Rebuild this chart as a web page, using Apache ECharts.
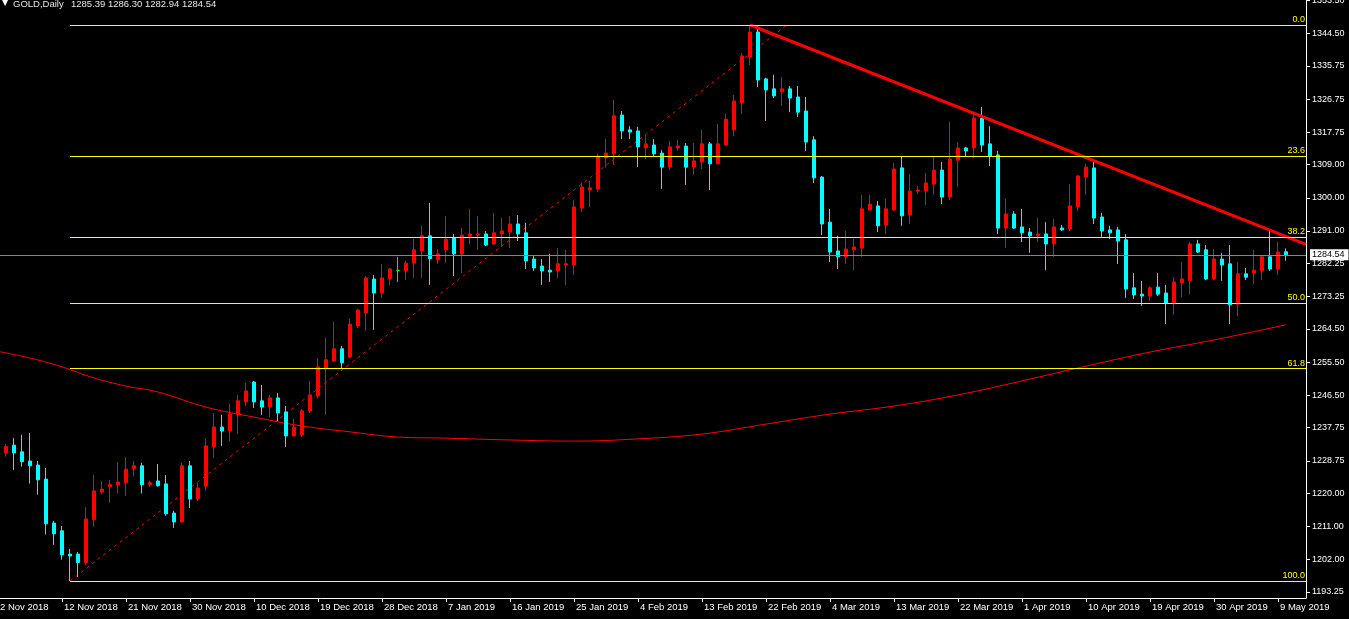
<!DOCTYPE html>
<html>
<head>
<meta charset="utf-8">
<script src="https://cdn.jsdelivr.net/npm/echarts@6/dist/echarts.min.js"></script>
<style>
html,body{margin:0;padding:0;background:#000;overflow:hidden;width:1349px;height:619px;}
#chart{position:absolute;left:-6px;top:0;width:1355px;height:619px;}
</style>
</head>
<body>
<div id="chart"></div>
<script>
const symbolName = 'GOLD,Daily';
const dates = [
'2 Nov 2018',
'4 Nov 2018','5 Nov 2018','6 Nov 2018','7 Nov 2018','8 Nov 2018','9 Nov 2018',
'11 Nov 2018','12 Nov 2018','13 Nov 2018','14 Nov 2018','15 Nov 2018','16 Nov 2018',
'18 Nov 2018','19 Nov 2018','20 Nov 2018','21 Nov 2018','22 Nov 2018','23 Nov 2018',
'25 Nov 2018','26 Nov 2018','27 Nov 2018','28 Nov 2018','29 Nov 2018','30 Nov 2018',
'2 Dec 2018','3 Dec 2018','4 Dec 2018','5 Dec 2018','6 Dec 2018','7 Dec 2018',
'9 Dec 2018','10 Dec 2018','11 Dec 2018','12 Dec 2018','13 Dec 2018','14 Dec 2018',
'16 Dec 2018','17 Dec 2018','18 Dec 2018','19 Dec 2018','20 Dec 2018','21 Dec 2018',
'23 Dec 2018','24 Dec 2018','25 Dec 2018','26 Dec 2018','27 Dec 2018','28 Dec 2018',
'30 Dec 2018','31 Dec 2018','1 Jan 2019','2 Jan 2019','3 Jan 2019','4 Jan 2019',
'6 Jan 2019','7 Jan 2019','8 Jan 2019','9 Jan 2019','10 Jan 2019','11 Jan 2019',
'13 Jan 2019','14 Jan 2019','15 Jan 2019','16 Jan 2019','17 Jan 2019','18 Jan 2019',
'20 Jan 2019','21 Jan 2019','22 Jan 2019','23 Jan 2019','24 Jan 2019','25 Jan 2019',
'27 Jan 2019','28 Jan 2019','29 Jan 2019','30 Jan 2019','31 Jan 2019','1 Feb 2019',
'3 Feb 2019','4 Feb 2019','5 Feb 2019','6 Feb 2019','7 Feb 2019','8 Feb 2019',
'10 Feb 2019','11 Feb 2019','12 Feb 2019','13 Feb 2019','14 Feb 2019','15 Feb 2019',
'17 Feb 2019','18 Feb 2019','19 Feb 2019','20 Feb 2019','21 Feb 2019','22 Feb 2019',
'24 Feb 2019','25 Feb 2019','26 Feb 2019','27 Feb 2019','28 Feb 2019','1 Mar 2019',
'3 Mar 2019','4 Mar 2019','5 Mar 2019','6 Mar 2019','7 Mar 2019','8 Mar 2019',
'10 Mar 2019','11 Mar 2019','12 Mar 2019','13 Mar 2019','14 Mar 2019','15 Mar 2019',
'17 Mar 2019','18 Mar 2019','19 Mar 2019','20 Mar 2019','21 Mar 2019','22 Mar 2019',
'24 Mar 2019','25 Mar 2019','26 Mar 2019','27 Mar 2019','28 Mar 2019','29 Mar 2019',
'31 Mar 2019','1 Apr 2019','2 Apr 2019','3 Apr 2019','4 Apr 2019','5 Apr 2019',
'7 Apr 2019','8 Apr 2019','9 Apr 2019','10 Apr 2019','11 Apr 2019','12 Apr 2019',
'14 Apr 2019','15 Apr 2019','16 Apr 2019','17 Apr 2019','18 Apr 2019','19 Apr 2019',
'22 Apr 2019','23 Apr 2019','24 Apr 2019','25 Apr 2019','26 Apr 2019',
'28 Apr 2019','29 Apr 2019','30 Apr 2019','1 May 2019','2 May 2019','3 May 2019',
'5 May 2019','6 May 2019','7 May 2019','8 May 2019','9 May 2019','10 May 2019',
'12 May 2019','13 May 2019'
];

const opens = [
1230.1,1230.9,1233.0,1231.2,1228.7,1227.6,1223.8,1211.9,1209.8,1203.5,
1203.5,1201.2,1212.8,1220.3,1221.7,1222.2,1222.8,1226.6,1227.4,1222.3,
1223.3,1222.5,1214.6,1212.2,1227.4,1218.4,1221.9,1232.5,1237.9,1236.8,
1241.2,1244.7,1250.1,1245.0,1243.3,1245.8,1242.0,1235.5,1235.8,1242.3,
1246.3,1253.9,1255.8,1259.1,1256.9,1265.3,1268.8,1278.0,1274.2,1278.0,
1280.35,1280.2,1282.3,1285.6,1289.7,1283.2,1285.9,1289.1,1284.8,1289.6,
1289.9,1290.2,1287.5,1290.2,1290.7,1292.9,1290.5,1283.4,1281.5,1280.4,
1280.2,1281.8,1281.8,1297.2,1302.1,1302.4,1310.8,1311.9,1322.4,1318.4,
1318.1,1313.5,1314.3,1312.1,1308.3,1313.5,1314.0,1308.3,1309.7,1314.6,
1309.2,1314.3,1318.4,1325.7,1338.1,1344.9,1332.2,1329.5,1328.7,1329.5,
1327.3,1323.5,1315.7,1305.6,1293.4,1285.6,1284.0,1285.9,1286.4,1296.7,
1297.8,1292.6,1296.7,1308.1,1295.3,1301.8,1301.8,1303.7,1307.5,1300.2,
1310.2,1313.5,1313.5,1321.6,1314.6,1311.6,1291.8,1295.6,1292.1,1290.7,
1289.7,1290.2,1287.5,1291.8,1291.6,1297.5,1305.6,1308.1,1294.8,1291.3,
1291.3,1288.6,1275.6,1273.9,1273.4,1275.8,1274.2,1271.5,1276.9,1277.5,
1287.5,1285.9,1278.0,1283.4,1282.1,1271.2,1279.4,1279.6,1280.2,1284.0,
1280.7,1285.39
];
const highs = [
1232.0,1233.3,1234.9,1235.8,1236.3,1228.7,1226.8,1212.5,1211.1,1204.9,
1204.1,1216.2,1224.9,1223.3,1223.6,1228.4,1229.8,1228.7,1228.2,1223.4,
1227.9,1224.9,1215.2,1228.2,1228.7,1222.8,1234.7,1241.7,1241.2,1244.2,
1246.6,1249.8,1250.4,1249.3,1246.6,1247.1,1243.6,1240.1,1242.8,1250.4,
1256.5,1262.0,1266.4,1259.9,1267.2,1269.9,1278.8,1279.1,1282.1,1281.0,
1284.0,1282.9,1288.8,1292.4,1298.6,1286.1,1295.1,1290.2,1291.8,1297.0,
1295.1,1291.0,1295.9,1294.5,1295.1,1295.3,1293.2,1284.5,1283.4,1284.8,
1286.4,1285.9,1299.4,1304.0,1304.6,1311.9,1315.9,1326.5,1323.5,1319.4,
1319.2,1317.0,1315.9,1312.9,1315.4,1315.7,1314.8,1314.8,1318.4,1315.1,
1320.0,1322.7,1327.8,1339.2,1346.8,1346.5,1332.5,1333.3,1332.7,1330.3,
1330.3,1327.3,1316.7,1305.9,1297.0,1289.7,1291.0,1288.8,1300.8,1300.8,
1299.1,1299.7,1309.4,1311.1,1306.4,1303.2,1306.7,1311.1,1309.7,1320.5,
1315.1,1313.8,1322.4,1324.6,1319.4,1312.7,1299.7,1296.4,1297.0,1291.8,
1294.5,1293.4,1294.3,1292.6,1303.7,1306.2,1309.2,1309.7,1295.9,1292.4,
1292.1,1290.2,1279.6,1277.5,1276.0,1279.6,1276.4,1278.5,1282.6,1288.0,
1288.6,1287.2,1286.1,1285.1,1287.2,1282.6,1281.0,1285.9,1284.5,1291.3,
1288.0,1286.30
];
const lows = [
1229.0,1229.9,1226.3,1227.2,1222.6,1219.6,1208.8,1206.0,1202.0,1196.2,
1197.3,1200.5,1210.9,1219.8,1217.3,1219.9,1219.3,1224.5,1219.9,1221.8,
1221.8,1213.9,1210.6,1212.0,1216.0,1217.9,1220.6,1229.5,1232.8,1234.1,
1236.0,1243.6,1243.1,1241.2,1240.6,1239.5,1232.5,1235.3,1235.2,1241.7,
1245.8,1241.2,1255.6,1253.6,1256.6,1264.7,1263.9,1264.2,1272.9,1276.4,
1277.2,1277.7,1278.3,1278.3,1276.4,1282.1,1282.3,1278.8,1279.6,1287.5,
1285.9,1286.9,1287.2,1286.7,1286.4,1288.3,1280.7,1280.2,1276.4,1277.2,
1278.3,1276.4,1279.1,1296.2,1297.5,1301.6,1308.1,1308.9,1315.9,1315.9,
1308.3,1310.5,1311.3,1302.4,1307.5,1312.7,1303.5,1306.2,1307.8,1302.1,
1309.0,1314.2,1316.7,1322.7,1336.0,1330.0,1320.8,1327.0,1324.9,1323.2,
1321.9,1312.7,1304.0,1289.9,1282.6,1280.7,1282.1,1280.4,1284.0,1296.5,
1290.7,1290.2,1296.4,1292.4,1292.9,1301.0,1298.1,1300.8,1298.3,1299.4,
1302.9,1311.3,1310.8,1312.4,1308.6,1290.2,1286.4,1291.6,1288.0,1285.1,
1288.0,1280.4,1284.0,1291.0,1291.0,1296.4,1300.8,1292.9,1289.4,1288.8,
1282.1,1272.9,1272.6,1270.7,1272.1,1273.4,1265.8,1268.3,1273.1,1273.9,
1285.1,1277.7,1277.7,1277.5,1265.8,1268.0,1277.7,1276.7,1277.7,1280.2,
1279.1,1282.94
];
const closes = [
1231.1,1232.6,1230.9,1228.5,1227.4,1223.6,1211.7,1209.0,1203.3,1203.0,
1201.2,1213.0,1220.6,1221.1,1222.3,1223.0,1226.5,1227.4,1222.3,1222.8,
1222.0,1214.4,1212.2,1227.4,1218.4,1221.4,1232.8,1237.9,1236.8,1241.4,
1245.0,1247.7,1244.7,1243.3,1245.8,1241.7,1235.5,1237.9,1242.3,1246.6,
1254.2,1256.1,1259.1,1255.3,1265.8,1269.6,1278.3,1274.2,1278.3,1280.7,
1280.35,1282.3,1285.9,1289.7,1283.5,1284.8,1288.8,1284.8,1289.9,1290.2,
1290.2,1287.2,1290.5,1291.0,1292.9,1290.2,1282.9,1281.0,1280.2,1279.9,
1282.1,1282.1,1297.5,1302.9,1302.7,1311.3,1312.1,1322.2,1318.1,1317.8,
1313.8,1314.6,1311.9,1308.3,1313.8,1314.0,1308.3,1310.0,1314.6,1309.2,
1314.6,1321.3,1326.2,1338.4,1344.9,1331.9,1329.2,1327.6,1329.5,1327.0,
1323.2,1315.1,1305.4,1292.9,1285.3,1284.0,1286.1,1286.7,1297.0,1298.3,
1292.4,1297.0,1307.8,1295.1,1301.8,1302.1,1304.0,1307.5,1300.2,1310.5,
1313.5,1312.7,1321.6,1314.3,1311.3,1291.8,1295.6,1291.8,1290.5,1289.7,
1290.2,1287.5,1292.1,1291.3,1297.8,1305.9,1308.3,1294.5,1291.0,1290.5,
1288.3,1275.3,1273.7,1273.4,1275.6,1273.9,1271.5,1277.2,1278.0,1287.5,
1285.3,1278.0,1283.4,1281.8,1271.0,1279.4,1278.5,1280.4,1284.0,1280.7,
1285.3,1284.54
];

// 200-period moving average, read at selected bars
const maBars = [0,4,8,12,16,20,26,32,38,44,50,56,64,72,80,88,96,104,112,120,128,136,144,152,161];
const maValues = [1258.4,1256.6,1254.2,1251.2,1249.0,1247.4,1243.3,1240.6,1238.2,1236.6,1235.2,1234.9,1234.4,1234.1,1234.7,1236.0,1238.7,1241.4,1243.6,1246.6,1250.4,1254.4,1258.2,1261.5,1265.6];

// Fibonacci retracement
const fibNames = ['0.0','23.6','38.2','50.0','61.8','100.0'];
const fibPrices = [1346.8,1311.26,1289.27,1271.5,1253.73,1196.2];
const fibStartBar = 9;
const fibAnchorBars = [9, 98.6];
const fibAnchorPrices = [1196.2, 1346.8];

// resistance trend line
const trendBars = [94, 163.5];
const trendPrices = [1346.8, 1287.4];

const lastPrice = 1284.54;
const yTicks = [1353.50,1344.50,1335.75,1326.75,1317.75,1309.00,1300.00,1291.00,1282.25,1273.25,1264.50,1255.50,1246.50,1237.75,1228.75,1220.00,1211.00,1202.00,1193.25];

const nCat = dates.length;
const candleData = dates.map((d, i) => i < opens.length ? [opens[i], closes[i], lows[i], highs[i]] : '-');
const lastIdx = opens.length - 1;
const headerValues = [opens[lastIdx], highs[lastIdx], lows[lastIdx], closes[lastIdx]].map(v => v.toFixed(2)).join(' ');

const chart = echarts.init(document.getElementById('chart'), null, {renderer: 'canvas'});
const labelFont = 'Liberation Sans';
const every8 = (idx) => idx % 8 === 0;

const fibLineData = fibPrices.map((p, k) => [
  {coord: [fibStartBar, p], name: fibNames[k]},
  {coord: [nCat - 0.5, p]}
]);

chart.setOption({
  backgroundColor: '#000000',
  animation: false,
  graphic: [
    {type: 'text', left: 8, top: -1, style: {text: '▼', fill: '#ffffff', font: '8px "DejaVu Sans"'}},
    {type: 'text', left: 19, top: -1, style: {text: symbolName, fill: '#e6e6e6', font: '9.5px "Liberation Sans"'}},
    {type: 'text', left: 77, top: -1, style: {text: headerValues, fill: '#e6e6e6', font: '9.5px "Liberation Sans"'}}
  ],
  grid: {left: 0, right: 43, top: 0, bottom: 21, containLabel: false, outerBoundsMode: 'none'},
  xAxis: [
    {
      type: 'category', data: dates, boundaryGap: true,
      axisLine: {show: true, onZero: false, lineStyle: {color: '#ffffff', width: 1}},
      axisTick: {show: true, alignWithLabel: true, interval: every8, length: 4, lineStyle: {color: '#ffffff'}},
      axisLabel: {show: true, interval: every8, align: 'left', color: '#ffffff', fontSize: 9.5, fontFamily: labelFont, margin: 4, padding: [0, 0, 0, 2]},
      splitLine: {show: false}
    },
    {type: 'value', min: -0.5, max: nCat - 0.5, show: false, axisLine: {onZero: false}}
  ],
  yAxis: {
    type: 'value', position: 'right', min: 1191.6, max: 1353.57,
    axisLine: {show: true, onZero: false, lineStyle: {color: '#ffffff', width: 1}},
    axisTick: {show: true, length: 4, customValues: yTicks, lineStyle: {color: '#ffffff'}},
    axisLabel: {show: true, customValues: yTicks, formatter: v => v.toFixed(2), color: '#ffffff', fontSize: 9, fontFamily: labelFont, margin: 6, showMinLabel: true, showMaxLabel: true},
    splitLine: {show: false}
  },
  series: [
    {
      name: 'MA200', type: 'line', xAxisIndex: 1, yAxisIndex: 0,
      data: maBars.map((b, k) => [b, maValues[k]]),
      smooth: 0.4, symbol: 'none', silent: true,
      lineStyle: {color: '#ff0000', width: 1}, z: 2
    },
    {
      name: 'fibAnchor', type: 'line', xAxisIndex: 1, yAxisIndex: 0,
      data: fibAnchorBars.map((b, k) => [b, fibAnchorPrices[k]]),
      symbol: 'none', silent: true,
      lineStyle: {color: '#ff0000', width: 1, type: [3, 4]}, z: 2,
      markLine: {
        silent: true, symbol: 'none', animation: false,
        lineStyle: {color: '#ffff00', width: 1, type: 'solid'},
        label: {show: true, position: 'insideEndTop', formatter: '{b}', color: '#ffff00', fontSize: 9, fontFamily: labelFont, distance: [1, 1]},
        emphasis: {disabled: true},
        data: fibLineData
      }
    },
    {
      name: 'GOLD', type: 'candlestick', xAxisIndex: 0, yAxisIndex: 0,
      data: candleData, barWidth: 4,
      itemStyle: {color: '#ff0000', color0: '#00ffff', borderColor: '#ff0000', borderColor0: '#00ffff', borderColorDoji: '#00ff00', borderWidth: 1},
      z: 3,
      markLine: {
        silent: true, symbol: 'none', animation: false,
        lineStyle: {color: '#778899', width: 1, type: 'solid'},
        label: {show: true, position: 'end', formatter: () => lastPrice.toFixed(2), color: '#000000', backgroundColor: '#ffffff', fontSize: 9, fontFamily: labelFont, padding: [1, 4, 1, 2], distance: 4},
        emphasis: {disabled: true},
        data: [{yAxis: lastPrice}]
      }
    },
    {
      name: 'trend', type: 'line', xAxisIndex: 1, yAxisIndex: 0,
      data: trendBars.map((b, k) => [b, trendPrices[k]]),
      symbol: 'none', silent: true,
      lineStyle: {color: '#ff0000', width: 3}, z: 4
    }
  ]
});
</script>
</body>
</html>
